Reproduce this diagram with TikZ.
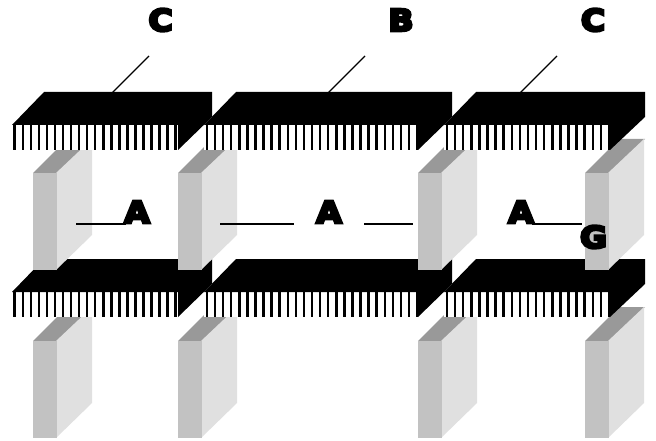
\documentclass[tikz,border=0pt]{standalone}
\usepackage{fontspec}
\newfontfamily\heavy[FakeBold=9,FakeStretch=1.1]{DejaVu Sans Bold}
\definecolor{colfront}{gray}{0.76}
\definecolor{colside}{gray}{0.88}
\definecolor{coltop}{gray}{0.6}
\definecolor{pin}{gray}{0.25}
\tikzset{
  lab/.style={inner sep=0pt,font=\heavy\fontsize{30}{30}\selectfont,text=black},
  leader/.style={draw=black,line width=1.3pt}
}
% column: #1 front-left x, #2 top y, #3 bottom y, #4 side bottom y
\newcommand{\colmn}[4]{%
  \fill[coltop] (#1,#2) -- ({#1+24},#2) -- ({#1+60},{#2-34}) -- ({#1+34},{#2-34}) -- cycle;
  \fill[colside] ({#1+23},#2) -- ({#1+59},{#2-34}) -- ({#1+59},#4) -- ({#1+23},#3) -- cycle;
  \fill[colfront] (#1,#2) rectangle ({#1+23.5},#3);
}
% beam: #1 left x, #2 pin-right x, #3 right x, #4 front y
\newcommand{\beamb}[4]{%
  \fill[white] (#1,#4) rectangle (#2,{#4+25});
  \fill[black] (#1,#4) -- ({#1+32},{#4-33}) -- (#3,{#4-33}) -- (#3,{#4-8}) -- (#2,{#4+25}) -- (#2,#4) -- cycle;
}
\newcommand{\pinsb}[4]{%
  \foreach \k in {0,...,#3} {
    \draw[pin,line width=2.5pt] ({#1+\k*#2},#4) -- ({#1+\k*#2},{#4+25});
  }
}
\begin{document}
\begin{tikzpicture}[x=1pt,y=-1pt]
\useasboundingbox (0,0) rectangle (656,441);
\fill[white] (0,0) rectangle (656,441);
% lower columns
\colmn{33}{341}{438}{403}
\colmn{178}{341}{438}{403}
\colmn{418}{341}{438}{403}
\colmn{585}{341}{438}{403}
% lower beams
\beamb{12}{178}{212}{292}
\pinsb{14.7}{8.05}{20}{292}
\beamb{204}{418}{452}{292}
\pinsb{207}{8.08}{26}{292}
\beamb{444}{610}{645}{292}
\pinsb{447}{8.1}{20}{292}
% upper columns
\colmn{33}{173}{270}{235}
\colmn{178}{173}{270}{235}
\colmn{418}{173}{270}{235}
\colmn{585}{173}{270}{235}
% upper beams
\beamb{12}{178}{212}{125}
\pinsb{14.7}{8.05}{20}{125}
\beamb{204}{418}{452}{125}
\pinsb{207}{8.08}{26}{125}
\beamb{444}{610}{645}{125}
\pinsb{447}{8.1}{20}{125}
% labels
\node[lab] (c1) at (160.5,20) {C};
\node[lab] (b) at (401,20) {B};
\node[lab] (c2) at (593,20) {C};
\node[lab] (a1) at (137,212) {A};
\node[lab] (a2) at (329,212) {A};
\node[lab] (a3) at (521,212) {A};
\node[lab] (g) at (593.5,237) {G};
% leaders
\coordinate (c1s) at (149,56); \coordinate (c1e) at (112,93);
\coordinate (bs) at (365,56); \coordinate (be) at (328,93);
\coordinate (c2s) at (557,56); \coordinate (c2e) at (520,93);
\coordinate (l1) at (76,224); \coordinate (l1e) at (126,224);
\coordinate (l2) at (220,224); \coordinate (l2e) at (294,224);
\coordinate (l3) at (364,224); \coordinate (l3e) at (413,224);
\coordinate (l4) at (532,224); \coordinate (l4e) at (582,224);
\draw[leader] (c1s) -- (c1e);
\draw[leader] (bs) -- (be);
\draw[leader] (c2s) -- (c2e);
\draw[leader] (l1) -- (l1e);
\draw[leader] (l2) -- (l2e);
\draw[leader] (l3) -- (l3e);
\draw[leader] (l4) -- (l4e);
\end{tikzpicture}
\end{document}
